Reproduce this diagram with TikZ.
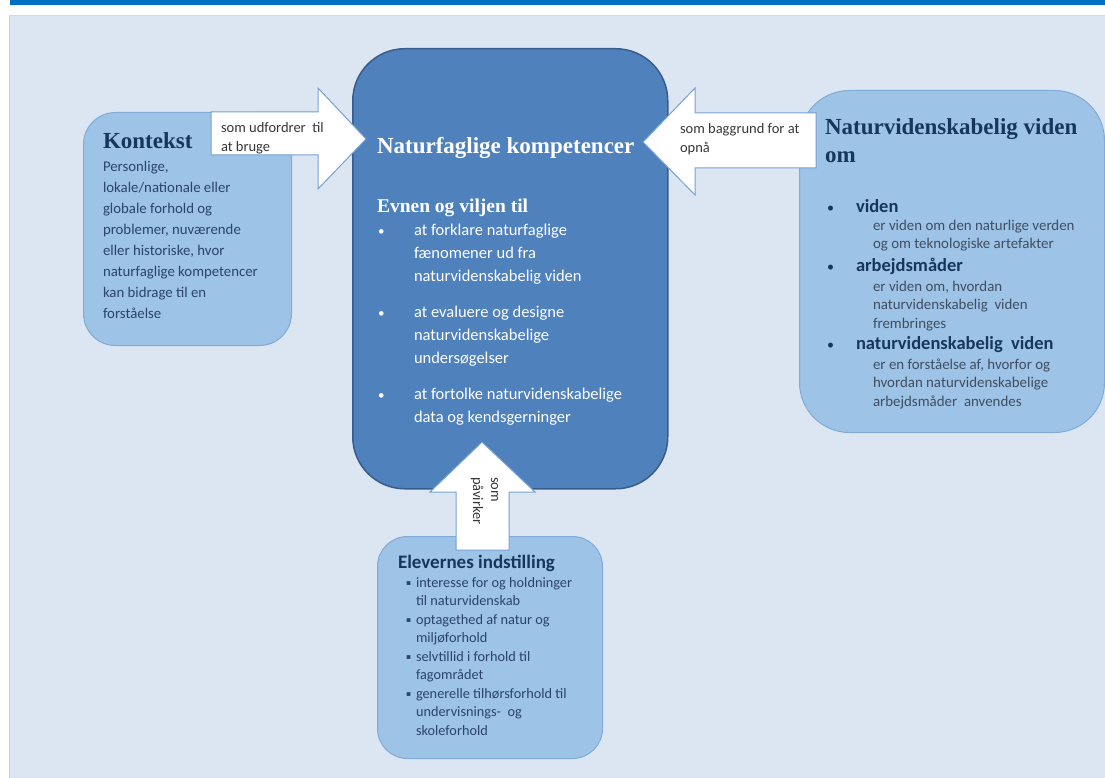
\documentclass[tikz,border=0pt]{standalone}
\usepackage{fontspec}
\setmainfont{Carlito}
\newfontfamily\headfont{Liberation Serif}
\newfontfamily\symfont{DejaVu Sans}
\definecolor{topbar}{RGB}{0,112,192}
\definecolor{panel}{RGB}{220,230,242}
\definecolor{paneledge}{RGB}{200,208,218}
\definecolor{boxlight}{RGB}{157,195,230}
\definecolor{boxedge}{RGB}{130,170,215}
\definecolor{centerfill}{RGB}{79,129,189}
\definecolor{centeredge}{RGB}{56,93,138}
\definecolor{arrowedge}{RGB}{120,160,210}
\definecolor{navy}{RGB}{23,54,93}
\definecolor{bodytext}{RGB}{43,68,104}
\definecolor{graytext}{RGB}{64,77,96}
\definecolor{arrowtext}{RGB}{55,55,55}
\newcommand{\mlines}[1]{\begin{tabular}[t]{@{}l@{}}#1\end{tabular}}
\begin{document}
\begin{tikzpicture}[x=1pt,y=-1pt,
  lightbox/.style={fill=boxlight, draw=boxedge, line width=1pt, anchor=north west, inner sep=0pt},
  centerbox/.style={fill=centerfill, draw=centeredge, line width=1.5pt, anchor=north west, inner sep=0pt},
  arrowshape/.style={fill=white, draw=arrowedge, line width=1pt, line join=miter},
  txt/.style={inner sep=0pt, outer sep=0pt, anchor=base west},
  head/.style={txt, font=\headfont\bfseries\fontsize{23}{28}\selectfont},
  bodyk/.style={txt, text=bodytext, font=\fontsize{14.8}{20.9}\selectfont},
  wtxt/.style={txt, text=white, font=\fontsize{16.5}{23}\selectfont},
  wbul/.style={txt, text=white, font=\fontsize{13}{23}\selectfont},
  atxt/.style={txt, text=arrowtext, font=\fontsize{14.5}{19}\selectfont},
  rbold/.style={txt, text=navy, font=\bfseries\fontsize{18.5}{20}\selectfont},
  rbul/.style={txt, text=navy, font=\fontsize{14}{20}\selectfont},
  rsub/.style={txt, text=graytext, font=\fontsize{14.9}{18.6}\selectfont},
  btxt/.style={txt, text=bodytext, font=\fontsize{14.3}{18.6}\selectfont},
  sqb/.style={txt, text=bodytext, font=\symfont\fontsize{7.5}{8}\selectfont},
]
\useasboundingbox (0,0) rectangle (1105,778);
% background
\fill[white] (0,0) rectangle (1105,778);
\fill[topbar] (10,0) rectangle (1105,5);
\fill[panel] (9,15) rectangle (1105,778);
\draw[paneledge, line width=1pt] (9.5,15) -- (9.5,778);
\draw[paneledge!60!panel, line width=0.8pt] (9,15.5) -- (1105,15.5);

% boxes
\node[lightbox, minimum width=208pt, minimum height=233pt, rounded corners=32pt] (kontekst) at (83,112) {};
\node[lightbox, minimum width=305pt, minimum height=342pt, rounded corners=50pt] (viden) at (799,90) {};
\node[lightbox, minimum width=225pt, minimum height=222pt, rounded corners=30pt] (elev) at (377,536) {};
\node[centerbox, minimum width=315pt, minimum height=440pt, rounded corners=52pt] (komp) at (352,48) {};

% arrows
\draw[arrowshape] (211,112) -- (318,112) -- (318,88) -- (366,139) -- (318,189) -- (318,155) -- (211,155) -- cycle;
\draw[arrowshape] (816,113) -- (695,113) -- (695,88) -- (643,142) -- (695,195) -- (695,168) -- (816,168) -- cycle;
\draw[arrowshape] (456,550) -- (456,492) -- (430,492) -- (482,442) -- (535,492) -- (509,492) -- (509,550) -- cycle;

% Kontekst
\node[head, text=navy] (kh) at (103,149) {Kontekst};
\node[bodyk] (kb) at (103,172) {\mlines{Personlige,\\lokale/nationale eller\\globale forhold og\\problemer,\ nuværende\\eller historiske,\ hvor\\naturfaglige\ kompetencer\\kan bidrage til en\\forståelse}};

% arrow texts
\node[atxt] (a1) at (221,133) {\mlines{som udfordrer\ \ til\\at bruge}};
\node[atxt] (a2) at (680,134) {\mlines{som baggrund\ for at\\opnå}};
\node[atxt, rotate=-90] (a3a) at (491,477) {som};
\node[atxt, rotate=-90] (a3b) at (473,477) {påvirker};

% centre
\node[head, text=white] (kt) at (377,154) {Naturfaglige kompetencer};
\node[txt, text=white, font=\headfont\bfseries\fontsize{19.5}{23}\selectfont] (ev) at (377,212) {Evnen og viljen til};
\node[wbul] (c1b) at (378,235) {•};
\node[wtxt] (c1) at (414,235) {\mlines{at forklare naturfaglige\\fænomener ud fra\\naturvidenskabelig viden}};
\node[wbul] (c2b) at (378,317) {•};
\node[wtxt] (c2) at (414,317) {\mlines{at evaluere og designe\\naturvidenskabelige\\undersøgelser}};
\node[wbul] (c3b) at (378,399) {•};
\node[wtxt] (c3) at (414,399) {\mlines{at fortolke naturvidenskabelige\\data og kendsgerninger}};

% right box
\node[head, text=navy] (vh) at (825,135) {\mlines{Naturvidenskabelig viden\\om}};
\node[rbul] (r1b) at (827,212) {•};
\node[rbold] (r1) at (856,212) {viden};
\node[rsub] (r1s) at (873,230) {\mlines{er viden\ om den\ naturlige\ verden\\og om teknologiske\ artefakter}};
\node[rbul] (r2b) at (827,271) {•};
\node[rbold] (r2) at (856,271) {arbejdsmåder};
\node[rsub] (r2s) at (873,291) {\mlines{er viden\ om,\ hvordan\\naturvidenskabelig\ \ viden\\frembringes}};
\node[rbul] (r3b) at (827,349) {•};
\node[rbold] (r3) at (856,349) {naturvidenskabelig\ \ viden};
\node[rsub] (r3s) at (873,369) {\mlines{er en\ forståelse af,\ hvorfor og\\hvordan\ naturvidenskabelige\\arbejdsmåder\ \ anvendes}};

% bottom box
\node[txt, text=navy, font=\bfseries\fontsize{19}{20}\selectfont] (eh) at (398,568) {Elevernes indstilling};
\node[sqb] (e1b) at (406,585) {▪};
\node[btxt] (e1) at (416,587) {\mlines{interesse\ for og holdninger\\til naturvidenskab}};
\node[sqb] (e2b) at (406,622) {▪};
\node[btxt] (e2) at (416,624) {\mlines{optagethed\ af natur og\\miljøforhold}};
\node[sqb] (e3b) at (406,659) {▪};
\node[btxt] (e3) at (416,661) {\mlines{selvtillid\ i forhold til\\fagområdet}};
\node[sqb] (e4b) at (406,696) {▪};
\node[btxt] (e4) at (416,698) {\mlines{generelle\ tilhørsforhold til\\undervisnings-\ \ og\\skoleforhold}};
\end{tikzpicture}
\end{document}
